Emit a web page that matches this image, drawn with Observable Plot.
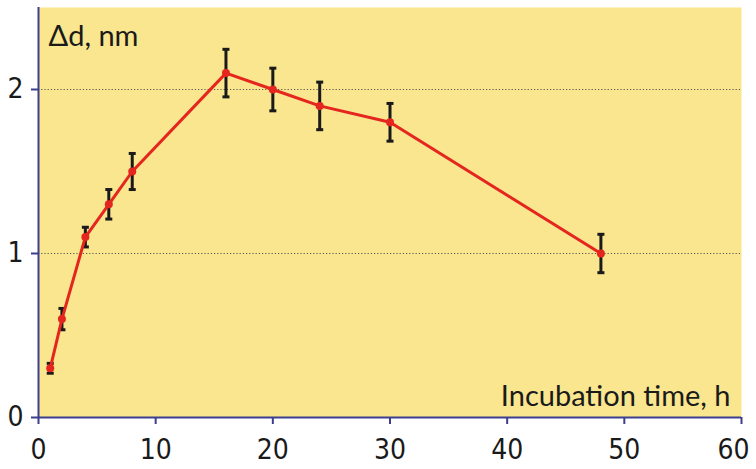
<!DOCTYPE html>
<html>
<head>
<meta charset="utf-8">
<script src="https://cdn.jsdelivr.net/npm/d3@7"></script>
<script src="https://cdn.jsdelivr.net/npm/@observablehq/plot@0.6"></script>
<style>
  html, body { margin: 0; padding: 0; background: #ffffff; }
  #chart svg { display: block; }
</style>
</head>
<body>
<div id="chart"></div>
<script>
const hours = [1, 2, 4, 6, 8, 16, 20, 24, 30, 48];
const deltaD = [0.30, 0.60, 1.10, 1.30, 1.50, 2.10, 2.00, 1.90, 1.80, 1.00];
const errors = [0.03, 0.065, 0.06, 0.09, 0.11, 0.145, 0.13, 0.145, 0.115, 0.117];
const xTicks = [0, 10, 20, 30, 40, 50];
const xTickLast = [60];
const yTicks = [0, 1, 2];
const gridValues = [1, 2];
const yLabel = "Δd, nm";
const xLabel = "Incubation time, h";

const data = hours.map((h, i) => ({ h, d: deltaD[i], lo: deltaD[i] - errors[i], hi: deltaD[i] + errors[i] }));

const navy = "#3b3f8e";
const red = "#e4261f";
const capSymbol = {
  draw(context, size) {
    const w = 3.5;
    context.moveTo(-w, 0);
    context.lineTo(w, 0);
  }
};

const axisOpts = { tickFormat: d => String(d), tickSize: 7, tickPadding: 15, fontSize: 28, stroke: navy, strokeWidth: 2, color: "#1a1a1a", label: null };

const chart = Plot.plot({
  width: 756,
  height: 469,
  marginLeft: 38,
  marginRight: 15,
  marginTop: 7,
  marginBottom: 52,
  style: { fontFamily: "'DejaVu Sans Condensed', 'DejaVu Sans', sans-serif", background: "#ffffff" },
  x: { domain: [0, 60] },
  y: { domain: [0, 2.5] },
  marks: [
    Plot.frame({ fill: "#f9e68e", stroke: "none" }),
    Plot.ruleY(gridValues, { stroke: "#555", strokeWidth: 1, strokeDasharray: "1.2,2" }),
    Plot.ruleX([0], { stroke: navy, strokeWidth: 2 }),
    Plot.ruleY([0], { stroke: navy, strokeWidth: 2 }),
    Plot.axisX({ ticks: xTicks, ...axisOpts }),
    Plot.axisX({ ticks: xTickLast, ...axisOpts, tickFormat: () => "" }),
    Plot.axisX({ ticks: xTickLast, ...axisOpts, tickSize: 0, tickPadding: 22, dx: -8 }),
    Plot.axisY({ ticks: yTicks, tickFormat: d => String(d), tickSize: 7, tickPadding: 8, fontSize: 28, stroke: navy, strokeWidth: 2, color: "#1a1a1a", label: null }),
    Plot.ruleX(data, { x: "h", y1: "lo", y2: "hi", stroke: "#1a1a1a", strokeWidth: 3 }),
    Plot.dot(data, { x: "h", y: "lo", symbol: capSymbol, stroke: "#1a1a1a", strokeWidth: 3 }),
    Plot.dot(data, { x: "h", y: "hi", symbol: capSymbol, stroke: "#1a1a1a", strokeWidth: 3 }),
    Plot.line(data, { x: "h", y: "d", stroke: red, strokeWidth: 3 }),
    Plot.dot(data, { x: "h", y: "d", r: 4, fill: red, stroke: "none" }),
    Plot.text([yLabel], { frameAnchor: "top-left", dx: 10, dy: 18, fontSize: 29, fontFamily: "Lato, 'Open Sans', sans-serif", fill: "#1a1a1a", textAnchor: "start" }),
    Plot.text([xLabel], { frameAnchor: "bottom-right", dx: -11, dy: -12, fontSize: 29, fontFamily: "Lato, 'Open Sans', sans-serif", fill: "#1a1a1a", textAnchor: "end" })
  ]
});
document.getElementById("chart").append(chart);
</script>
</body>
</html>
